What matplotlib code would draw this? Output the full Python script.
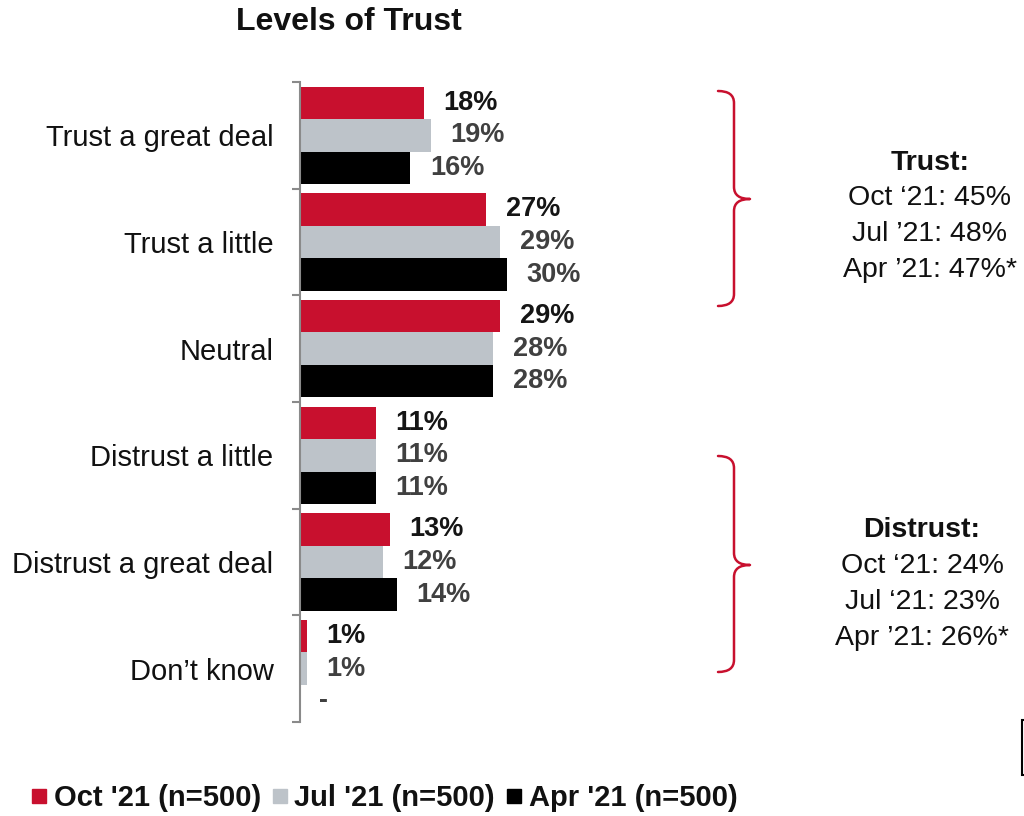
import matplotlib
matplotlib.use("Agg")
import numpy as np
from matplotlib import pyplot as plt
from matplotlib.path import Path
from matplotlib.patches import PathPatch
from matplotlib.lines import Line2D

plt.rcParams['font.family'] = ['Liberation Sans', 'DejaVu Sans']

categories = ["Trust a great deal", "Trust a little", "Neutral",
              "Distrust a little", "Distrust a great deal", "Don\u2019t know"]
oct_vals = [18, 27, 29, 11, 13, 1]
jul_vals = [19, 29, 28, 11, 12, 1]
apr_vals = [16, 30, 28, 11, 14, 0]
oct_labels = ["18%", "27%", "29%", "11%", "13%", "1%"]
jul_labels = ["19%", "29%", "28%", "11%", "12%", "1%"]
apr_labels = ["16%", "30%", "28%", "11%", "14%", "-"]
series_names = ["Oct '21 (n=500)", "Jul '21 (n=500)", "Apr '21 (n=500)"]

trust_head = "Trust:"
trust_lines = ["Oct \u201821: 45%", "Jul \u201921: 48%", "Apr \u201921: 47%*"]
distrust_head = "Distrust:"
distrust_lines = ["Oct \u201821: 24%", "Jul \u201821: 23%", "Apr \u201921: 26%*"]

RED = "#C8102E"
GREY = "#BDC3C9"
BLACK = "#000000"
colors = [RED, GREY, BLACK]
label_colors = ["#151515", "#404040", "#404040"]

W, H = 1024, 816
fig = plt.figure(figsize=(W / 100, H / 100), dpi=100)
ax = fig.add_axes([300 / W, (H - 722) / H, 414 / W, 640 / H])

y = np.arange(len(categories))
bh = 0.305
series = [(oct_vals, oct_labels), (jul_vals, jul_labels), (apr_vals, apr_labels)]
for i, (vals, labs) in enumerate(series):
    pos = y + (i - 1) * bh
    ax.barh(pos, vals, height=bh, color=colors[i], edgecolor='none')
    for p, v, t in zip(pos, vals, labs):
        ax.annotate(t, (v, p), xytext=(14, 0), textcoords='offset points',
                    ha='left', va='center', fontsize=19.5, fontweight='bold',
                    color=label_colors[i])

ax.set_xlim(0, 60)
ax.set_ylim(len(categories) - 0.5, -0.5)
ax.set_yticks(y)
ax.set_yticklabels(categories, fontsize=21, color='#111111')
ax.set_yticks(np.arange(-0.5, len(categories), 1.0), minor=True)
ax.tick_params(axis='y', which='major', length=0, pad=19)
ax.tick_params(axis='y', which='minor', length=6, width=1.5, color='#8a8a8a', direction='out')
ax.set_xticks([])
for s in ['top', 'right', 'bottom']:
    ax.spines[s].set_visible(False)
ax.spines['left'].set_color('#8a8a8a')
ax.spines['left'].set_linewidth(1.5)

# overlay in pixel coords for title, braces, summaries
ov = fig.add_axes([0, 0, 1, 1], facecolor='none')
ov.set_xlim(0, W)
ov.set_ylim(H, 0)
ov.axis('off')

ov.text(349, 22, "Levels of Trust", ha='center', va='center',
        fontsize=23, fontweight='bold', color='#111111')


def brace(x0, xm, xt, ytop, ymid, ybot, r=12):
    verts = [(x0, ytop), (xm, ytop), (xm, ytop + r),
             (xm, ymid - r), (xm, ymid), (xt, ymid),
             (xm, ymid), (xm, ymid + r),
             (xm, ybot - r), (xm, ybot), (x0, ybot)]
    codes = [Path.MOVETO, Path.CURVE3, Path.CURVE3,
             Path.LINETO, Path.CURVE3, Path.CURVE3,
             Path.CURVE3, Path.CURVE3,
             Path.LINETO, Path.CURVE3, Path.CURVE3]
    ov.add_patch(PathPatch(Path(verts, codes), fill=False, edgecolor=RED,
                           lw=1.8, capstyle='round', joinstyle='round'))


brace(718, 734, 750, 91, 199, 306)
brace(718, 734, 750, 456, 565, 672)

ov.text(930, 163, trust_head, ha='center', va='center', fontsize=20.5,
        fontweight='bold', color='#111111')
for k, t in enumerate(trust_lines):
    ov.text(930, 198 + 36 * k, t, ha='center', va='center', fontsize=20.5, color='#111111')
ov.text(922, 530, distrust_head, ha='center', va='center', fontsize=20.5,
        fontweight='bold', color='#111111')
for k, t in enumerate(distrust_lines):
    ov.text(922, 566 + 36 * k, t, ha='center', va='center', fontsize=20.5, color='#111111')

# partial box cut at right edge
ov.plot([1032, 1022, 1022, 1032], [720, 720, 775, 775], color='black', lw=1.5,
        solid_joinstyle='miter', clip_on=False)

handles = [Line2D([], [], marker='s', ls='none', markersize=10.5, color=c) for c in colors]
leg = fig.legend(handles, series_names, loc='center left', ncol=3,
                 bbox_to_anchor=(4 / W, 1 - 798 / H), frameon=False,
                 handlelength=0.6, handletextpad=0.2, columnspacing=0.35,
                 prop={'size': 21, 'weight': 'bold'})
for t in leg.get_texts():
    t.set_color('#111111')

fig.savefig("out.png", dpi=100)
